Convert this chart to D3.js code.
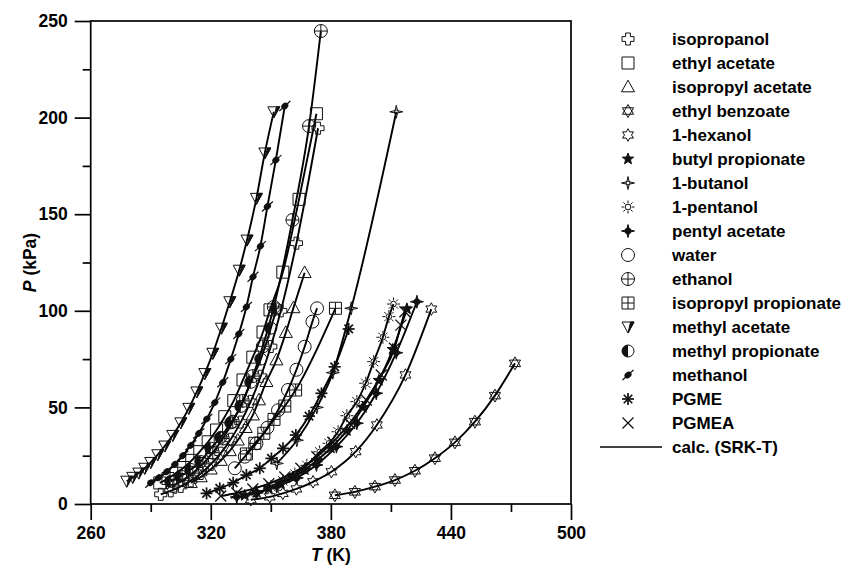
<!DOCTYPE html>
<html><head><meta charset="utf-8">
<script src="https://cdn.jsdelivr.net/npm/d3@7"></script>
<style>
body{margin:0;background:#fff}
svg{display:block}
text{font-family:"Liberation Sans",Arial,sans-serif;font-weight:bold;fill:#000}
</style></head>
<body><svg id="c" width="848" height="567"></svg>
<script>
// ---- axes ----
const xMajor=[260,320,380,440,500];
const xMinor=[290,350,410,470];
const yMajor=[0,50,100,150,200,250];
const yMinor=[25,75,125,175,225];

// ---- data: [T (K), P (kPa)] ----
const isopropanol=[[295,5],[300,6.8],[305,9.1],[310,12],[315,15.8],[320,20.5],[325,26.3],[330,33.5],[335,42.4],[340,53.1],[345,66.1],[350,81.5],[355,100],[362.8,135],[373.6,194.5]];
const ethylAcetate=[[294.5,10.9],[298.6,13.2],[302.6,15.9],[306.5,18.9],[310.5,22.6],[314.5,27.1],[318.7,32.2],[322.9,38.3],[327,45.2],[331.5,53.5],[336.1,64.2],[341,76],[346.1,89],[349.6,100.5],[356,120],[364.1,157.7],[372.8,202]];
const isopropylAcetate=[[310,11],[315,14],[320,18],[325,22.5],[329.5,27.5],[333.5,33],[337.5,39.5],[341,46],[344.1,53.8],[347.8,63.3],[352.8,74.5],[357.5,88.7],[361.3,101.5],[366.9,119.7]];
const ethylBenzoate=[[382,4.5],[392,6.3],[402,9],[412,12.4],[422,17.2],[432,23.7],[442,31.9],[452,42.6],[462,56.1],[472,72.8]];
const hexanol=[[340,2.2],[349.5,3.7],[356,5.5],[362.8,7.8],[371.1,11.5],[380.3,16.7],[392.4,27.1],[403,40.9],[417.3,66.8],[430.2,100.9]];
const butylPropionate=[[337,4.5],[343,6],[349,8],[355,10.5],[361,13.8],[367,17.8],[373,22.5],[380,29],[388,38],[396,50],[404,64],[411,80],[418,101]];
const butanol=[[353,21],[363,33],[373,50],[381,68],[390.2,101.3],[412.7,203]];
const pentanol=[[350,9],[356,12],[362,15.5],[368,20],[374.4,27],[379.1,31.4],[383.6,37.4],[388,45.7],[393,53],[397.4,62.5],[401.4,73.7],[406,86.3],[409,97],[411.3,103.5]];
const pentylAcetate=[[333,3.6],[343,5.8],[353,9],[363,13.5],[372.8,20.2],[382.8,29.7],[393,41.8],[402.7,57.3],[412.7,78.3],[423,104.7]];
const water=[[332,18.5],[337,24.5],[342.8,31.4],[348.3,39.5],[353.6,48.5],[358.6,59],[362.8,69.5],[366.9,81.4],[370.8,94.4],[373.1,101.3]];
const ethanol=[[301,9.3],[306,12.3],[311,16],[316,20.8],[321,26.6],[326,33.9],[331,42.6],[336,53.4],[341,66.2],[346,81.6],[351.5,102],[360.8,147],[369.1,195.6],[375,244.8]];
const isopropylPropionate=[[337.8,25.9],[342,31.4],[346.5,36.6],[351.6,43.8],[357,50.7],[362.4,59],[382.3,101.3]];
const methylAcetate=[[278,11.8],[281,13.8],[284,16],[287,18.5],[290,21.5],[293.5,25.5],[297,30],[301,35.5],[305,42],[309,49.5],[313,58],[317,67.5],[321,78],[325.3,91],[329.5,104.7],[334.2,121],[338.1,136.6],[342.8,158.2],[347,181.7],[351.5,203]];
const methylPropionate=[[300,11.7],[305,14.5],[310,17.9],[315,22],[320,28.9],[325,34.5],[330,42],[335,50.5],[340,63],[345,75],[350,91],[352.8,101]];
const methanol=[[290,11],[294,13.6],[298,16.7],[302,20.5],[306,25],[310,30.4],[314,36.5],[318,44],[322,52.5],[326,63],[330,75],[334,88],[337.8,102],[341.1,117.6],[344.8,133.5],[348.3,154],[352.5,178],[357,206]];
const pgme=[[317.9,5.5],[324.5,8.1],[331.2,11],[337.8,15],[344.5,18.5],[350.3,23.6],[356.1,28.8],[362.5,35.7],[369.1,45.5],[375.3,57.3],[381.9,71],[388.9,90.6]];
const pgmea=[[325,4.1],[333,5.7],[341,7.8],[349,10.5],[357,14],[365,18.5],[373,24.5],[381,32],[389.4,41.8],[397.7,53.8],[405.2,66.8],[411.8,80.6],[415,92.6],[417,99.5]];

const seriesNames=["isopropanol","ethyl acetate","isopropyl acetate","ethyl benzoate","1-hexanol","butyl propionate","1-butanol","1-pentanol","pentyl acetate","water","ethanol","isopropyl propionate","methyl acetate","methyl propionate","methanol","PGME","PGMEA"];
const seriesData=[isopropanol,ethylAcetate,isopropylAcetate,ethylBenzoate,hexanol,butylPropionate,butanol,pentanol,pentylAcetate,water,ethanol,isopropylPropionate,methylAcetate,methylPropionate,methanol,pgme,pgmea];
const seriesMarker=["plusO","square","triUp","hexLines","hexStar","star5","butanol","sun","pentyl","circle","circlePlus","squarePlus","triDownHalf","circleHalf","methanol","asterisk","cross"];
const lineLabel="calc. (SRK-T)";

// ---- layout ----
const svg=d3.select("#c");
const x=d3.scaleLinear().domain([260,500]).range([90.7,571]);
const y=d3.scaleLinear().domain([0,250]).range([504,21]);

svg.append("rect").attr("x",x(260)).attr("y",y(250)).attr("width",x(500)-x(260)).attr("height",y(0)-y(250))
  .attr("fill","none").attr("stroke","#000").attr("stroke-width",1.7);

function styleAxis(g){g.select(".domain").remove();g.selectAll("line").attr("stroke","#000").attr("stroke-width",1.7);
  g.selectAll("text").style("font-size","17.5px").style("font-weight","bold").style("font-family","'Liberation Sans',Arial,sans-serif");}
svg.append("g").attr("transform",`translate(0,${y(0)})`)
  .call(d3.axisBottom(x).tickValues(xMajor).tickSize(16).tickPadding(7).tickFormat(d3.format("d"))).call(styleAxis);
svg.append("g").attr("transform",`translate(0,${y(0)})`)
  .call(d3.axisBottom(x).tickValues(xMinor).tickSize(8).tickFormat("")).call(styleAxis);
svg.append("g").attr("transform",`translate(${x(260)},0)`)
  .call(d3.axisLeft(y).tickValues(yMajor).tickSize(16).tickPadding(7).tickFormat(d3.format("d"))).call(styleAxis);
svg.append("g").attr("transform",`translate(${x(260)},0)`)
  .call(d3.axisLeft(y).tickValues(yMinor).tickSize(8).tickFormat("")).call(styleAxis);

const xt=svg.append("text").attr("x",(x(260)+x(500))/2).attr("y",561).attr("text-anchor","middle").style("font-size","17.5px");
xt.append("tspan").style("font-style","italic").text("T");xt.append("tspan").text(" (K)");
const yt=svg.append("text").attr("transform",`translate(36,${(y(0)+y(250))/2}) rotate(-90)`).attr("text-anchor","middle").style("font-size","17.5px");
yt.append("tspan").style("font-style","italic").text("P");yt.append("tspan").text(" (kPa)");

// ---- marker drawing ----
function drawMarker(g,kind){
  const r=6, sw=1, st="#111";
  const P=(d,fill)=>g.append("path").attr("d",d).attr("fill",fill||"none").attr("stroke",st).attr("stroke-width",sw);
  const L=(x1,y1,x2,y2,w)=>g.append("line").attr("x1",x1).attr("y1",y1).attr("x2",x2).attr("y2",y2).attr("stroke",st).attr("stroke-width",w||sw);
  const poly=pts=>"M"+pts.map(p=>p.join(",")).join("L")+"Z";
  const star=(n,ro,ri,rot)=>{const pts=[];for(let i=0;i<2*n;i++){const a=rot+i*Math.PI/n;const rr=i%2?ri:ro;pts.push([rr*Math.sin(a),-rr*Math.cos(a)]);}return poly(pts);};
  switch(kind){
    case "plusO":{const a=2.4,b=6;P(poly([[-a,-b],[a,-b],[a,-a],[b,-a],[b,a],[a,a],[a,b],[-a,b],[-a,a],[-b,a],[-b,-a],[-a,-a]]));break;}
    case "square":P(`M${-r},${-r}h${2*r}v${2*r}h${-2*r}Z`);break;
    case "triUp":P(poly([[0,-6.8],[6.5,4.8],[-6.5,4.8]]));break;
    case "hexLines":P(poly([[0,-6.5],[5.6,3.25],[-5.6,3.25]]));P(poly([[0,6.5],[5.6,-3.25],[-5.6,-3.25]]));break;
    case "hexStar":P(star(6,6.3,3.5,0));break;
    case "star5":P(star(5,6,2.5,0),st);break;
    case "butanol":P(star(4,6.5,1.7,0));g.append("circle").attr("r",2).attr("fill","none").attr("stroke",st).attr("stroke-width",sw);break;
    case "sun":{g.append("circle").attr("r",2.8).attr("fill","none").attr("stroke",st).attr("stroke-width",sw);
      for(let i=0;i<8;i++){const a=i*Math.PI/4;L(3.8*Math.cos(a),3.8*Math.sin(a),6.5*Math.cos(a),6.5*Math.sin(a));}break;}
    case "pentyl":P(star(4,6.5,1.9,0),st);g.append("circle").attr("r",3.2).attr("fill",st);break;
    case "circle":g.append("circle").attr("r",6.5).attr("fill","none").attr("stroke",st).attr("stroke-width",sw);break;
    case "circlePlus":g.append("circle").attr("r",6.5).attr("fill","none").attr("stroke",st).attr("stroke-width",sw);L(-6.5,0,6.5,0);L(0,-6.5,0,6.5);break;
    case "squarePlus":P(`M${-r},${-r}h${2*r}v${2*r}h${-2*r}Z`);L(-r,0,r,0);L(0,-r,0,r);break;
    case "triDownHalf":P(poly([[6,-5],[0,6],[2.6,-5]]),st);P(poly([[-6,-5],[6,-5],[0,6]]));break;
    case "circleHalf":g.append("path").attr("d",d3.arc()({innerRadius:0,outerRadius:6,startAngle:Math.PI,endAngle:2*Math.PI})).attr("fill",st);
      g.append("circle").attr("r",6).attr("fill","none").attr("stroke",st).attr("stroke-width",sw);break;
    case "methanol":g.append("ellipse").attr("rx",3.8).attr("ry",3.1).attr("transform","rotate(-40)").attr("fill",st);L(-5.5,5,5.5,-5,1.2);break;
    case "asterisk":for(let i=0;i<4;i++){const a=i*Math.PI/4;L(-6*Math.cos(a),-6*Math.sin(a),6*Math.cos(a),6*Math.sin(a),1.7);}break;
    case "cross":L(-5.5,-5.5,5.5,5.5,1.3);L(-5.5,5.5,5.5,-5.5,1.3);break;
  }
}

// ---- curves ----
const line=d3.line().x(d=>x(d[0])).y(d=>y(d[1])).curve(d3.curveMonotoneX);
const plot=svg.append("g");
seriesData.forEach(s=>{
  plot.append("path").attr("d",line(s)).attr("fill","none").attr("stroke","#000").attr("stroke-width",1.9);
});
seriesData.forEach((s,i)=>{
  s.forEach(d=>{drawMarker(plot.append("g").attr("transform",`translate(${x(d[0])},${y(d[1])})`),seriesMarker[i]);});
});

// ---- legend ----
const leg=svg.append("g");
const ly0=39, lstep=24;
seriesNames.forEach((n,i)=>{
  drawMarker(leg.append("g").attr("transform",`translate(628,${ly0+i*lstep})`),seriesMarker[i]);
  leg.append("text").attr("x",672).attr("y",ly0+i*lstep).attr("dy","0.36em").style("font-size","17px").text(n);
});
const li=seriesNames.length;
leg.append("line").attr("x1",600).attr("x2",662).attr("y1",ly0+li*lstep).attr("y2",ly0+li*lstep).attr("stroke","#000").attr("stroke-width",1.6);
leg.append("text").attr("x",672).attr("y",ly0+li*lstep).attr("dy","0.36em").style("font-size","17px").text(lineLabel);
</script></body></html>
